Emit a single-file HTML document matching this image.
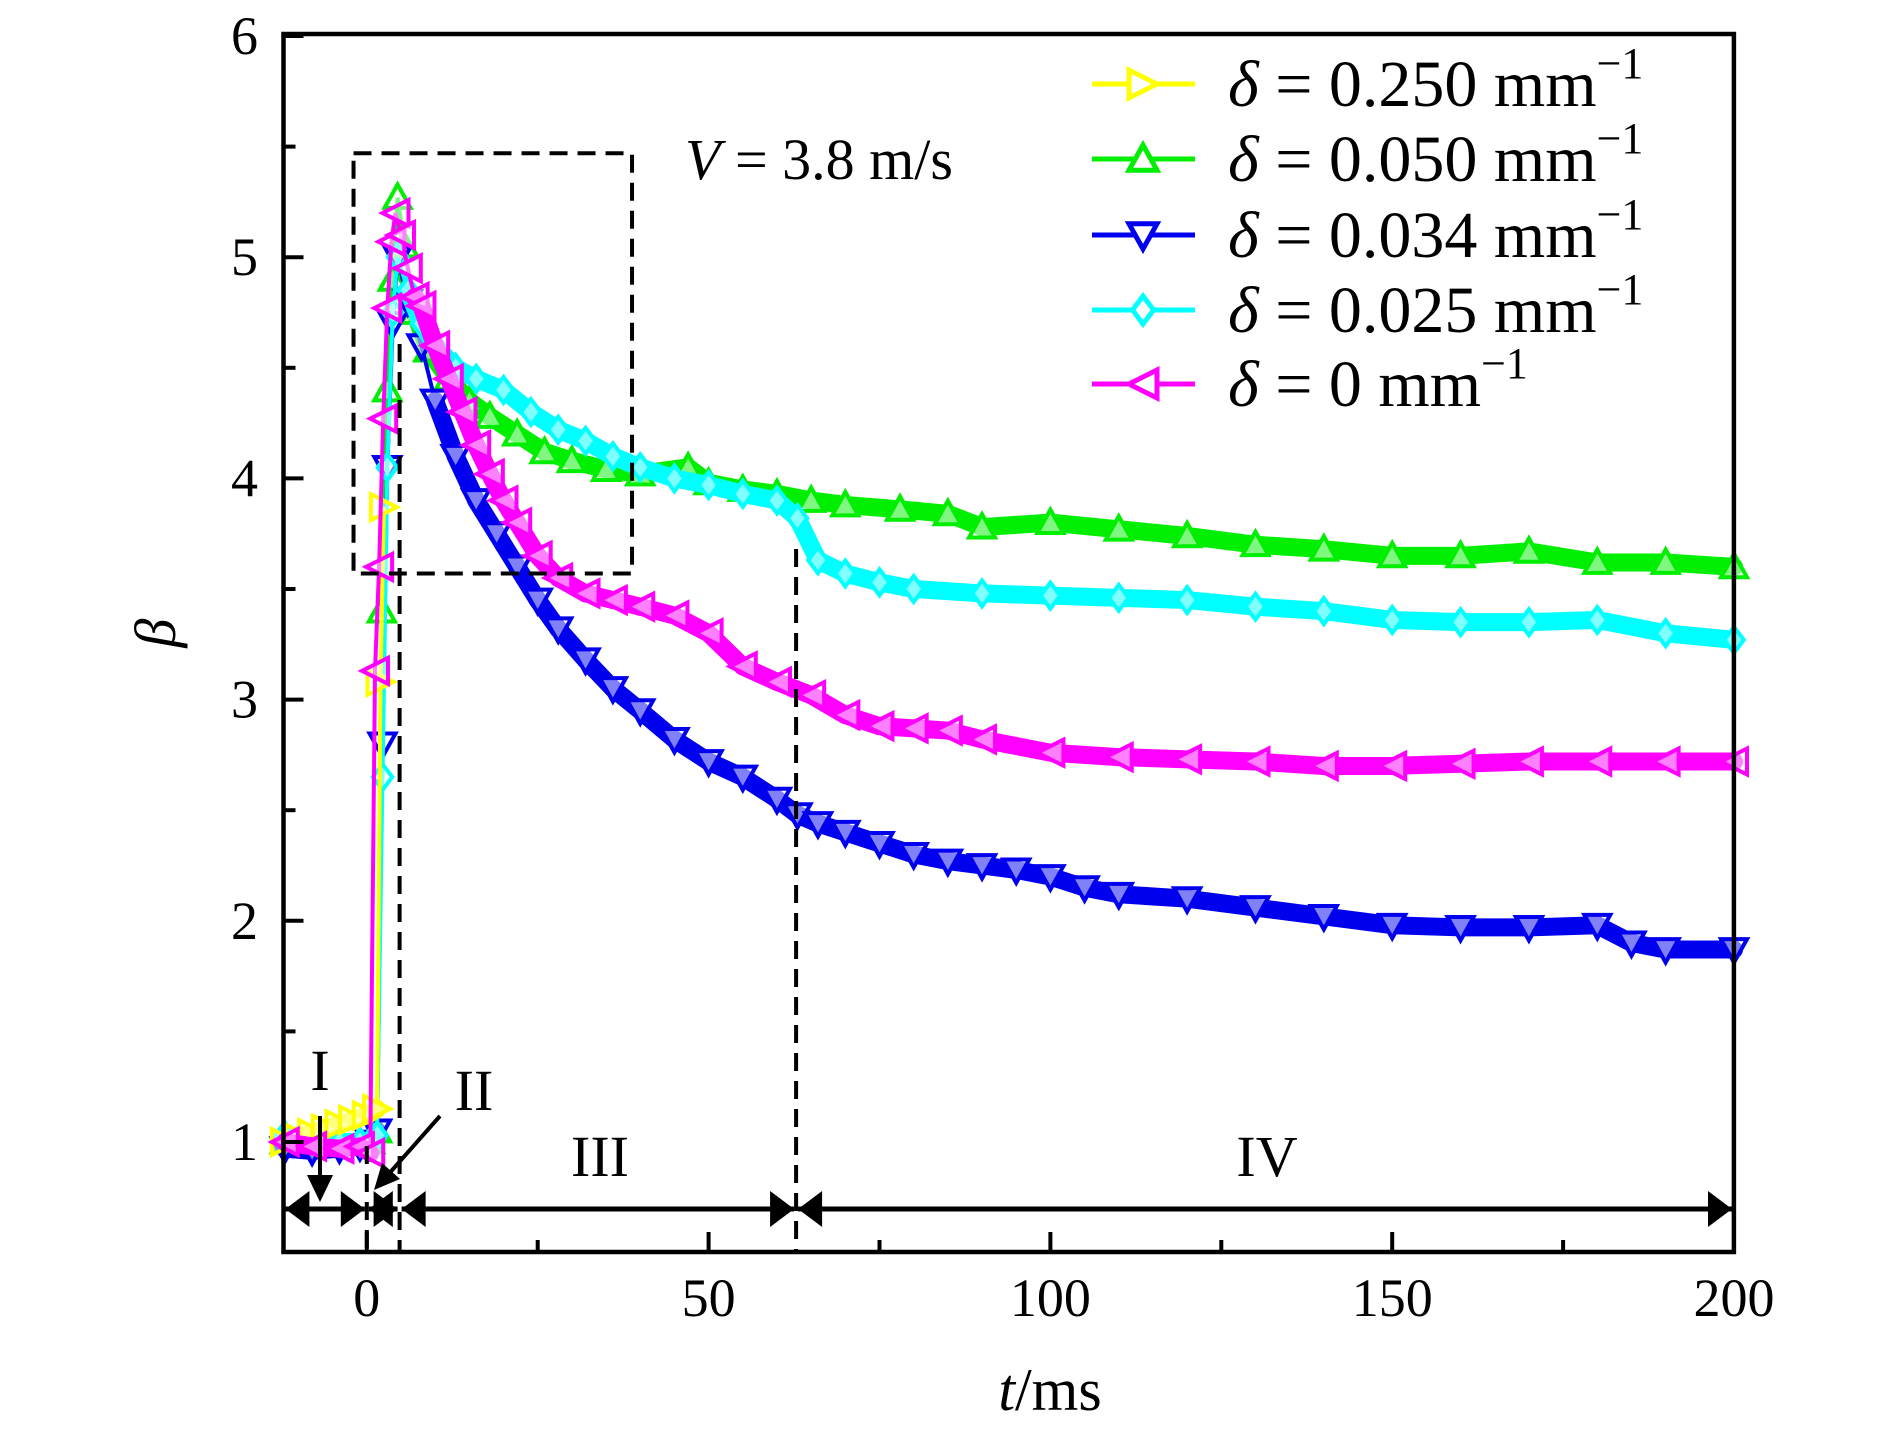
<!DOCTYPE html>
<html><head><meta charset="utf-8"><style>
html,body{margin:0;padding:0;background:#fff}
svg{display:block}
text{font-family:"Liberation Serif",serif;fill:#000}
</style></head><body>
<svg id="chart" width="1890" height="1441" viewBox="0 0 1890 1441" xmlns="http://www.w3.org/2000/svg">
<g id="series"></g>
<g id="axes"></g>
<g id="annot"></g>
<g id="legend"></g>
</svg>
<script>
const xTicks = [0, 50, 100, 150, 200];
const xMinor = [25, 75, 125, 175];
const yTicks = [1, 2, 3, 4, 5, 6];
const yMinor = [1.5, 2.5, 3.5, 4.5, 5.5];
const seriesNames = ["δ=0.250 mm⁻¹","δ=0.050 mm⁻¹","δ=0.034 mm⁻¹","δ=0.025 mm⁻¹","δ=0 mm⁻¹"];
const seriesColors = ["#ffff00","#00ee00","#0000ee","#00ffff","#ff00ff"];
const tYellow = [-12,-10,-8,-6,-4,-2,0,1.5,2.0,2.5];
const bYellow = [1.0,1.02,1.04,1.06,1.08,1.1,1.12,1.15,3.08,3.87];
const tGreen = [-12,-8,-4,-1,0.5,1.5,2.2,3,3.8,4.5,5.5,7,9,12,15,18,22,26,30,35,40,47,50,55,60,65,70,78,85,90,100,110,120,130,140,150,160,170,180,190,200];
const bGreen = [1,1,1,1,1,1.05,3.4,4.4,4.9,5.27,5.05,4.75,4.58,4.45,4.35,4.28,4.2,4.12,4.08,4.04,4.02,4.05,3.98,3.95,3.93,3.9,3.88,3.86,3.84,3.78,3.8,3.77,3.74,3.7,3.68,3.65,3.65,3.67,3.62,3.62,3.6];
const tBlue = [-12,-8,-4,-1,0.5,1.5,2.3,3,3.8,4.5,6,8,10,13,16,19,22,25,28,32,36,40,45,50,55,60,63,66,70,75,80,85,90,95,100,105,110,120,130,140,150,160,170,180,185,190,200];
const bBlue = [0.97,0.96,0.97,0.98,1.0,1.05,2.8,4.05,4.7,5.0,4.8,4.6,4.35,4.1,3.9,3.75,3.6,3.45,3.32,3.18,3.05,2.95,2.82,2.72,2.65,2.55,2.48,2.44,2.4,2.35,2.3,2.27,2.25,2.23,2.2,2.15,2.12,2.1,2.06,2.02,1.98,1.97,1.97,1.98,1.9,1.87,1.87];
const tCyan = [-12,-8,-4,-1,0.5,1.5,2.3,3,3.8,4.5,6,8,10,13,16,20,24,28,32,36,40,45,50,55,60,63,66,70,75,80,90,100,110,120,130,140,150,160,170,180,190,200];
const bCyan = [1.03,1.02,1.0,1.0,1.0,1.03,2.65,4.05,4.75,5.0,4.85,4.7,4.6,4.5,4.45,4.4,4.3,4.22,4.17,4.1,4.05,4.0,3.97,3.93,3.9,3.82,3.63,3.57,3.53,3.5,3.48,3.47,3.46,3.45,3.42,3.4,3.36,3.35,3.35,3.36,3.3,3.27];
const tMag = [-12,-8,-4,-1,0.5,1.2,1.8,2.4,3,3.6,4.2,5,6,7,8,10,12,14,16,18,20,22,25,28,32,36,40,45,50,55,60,65,70,75,80,85,90,100,110,120,130,140,150,160,170,180,190,200];
const bMag = [1.0,0.98,0.97,0.98,0.95,3.13,3.6,4.27,4.77,5.07,5.2,5.1,4.95,4.82,4.78,4.6,4.45,4.3,4.15,4.02,3.9,3.8,3.65,3.55,3.48,3.45,3.42,3.38,3.3,3.15,3.08,3.02,2.93,2.88,2.87,2.86,2.82,2.76,2.74,2.73,2.72,2.7,2.7,2.71,2.72,2.72,2.72,2.72];

const NS="http://www.w3.org/2000/svg";
const X0=366.8, XS=6.836, YB=1252.6, YS=221.2;
const L=283.5, R=1733.9, T=34, B=1252;
function xs(t){return X0+XS*t;}
function ys(b){return YB-(b-0.5)*YS;}
function mk(tag,attrs,parent){const e=document.createElementNS(NS,tag);for(const k in attrs)e.setAttribute(k,attrs[k]);parent.appendChild(e);return e;}
const gS=document.getElementById('series'),gA=document.getElementById('axes'),gN=document.getElementById('annot'),gL=document.getElementById('legend');

function markerPath(kind,x,y,s){
  const h=s/2;
  if(kind==='right')return `M${x-h},${y-h}L${x+h},${y}L${x-h},${y+h}Z`;
  if(kind==='up')return `M${x-h},${y+h*0.8}L${x},${y-h}L${x+h},${y+h*0.8}Z`;
  if(kind==='down')return `M${x-h},${y-h*0.8}L${x},${y+h}L${x+h},${y-h*0.8}Z`;
  if(kind==='diamond')return `M${x},${y-h}L${x+h*0.75},${y}L${x},${y+h}L${x-h*0.75},${y}Z`;
  return `M${x+h},${y-h}L${x-h},${y}L${x+h},${y+h}Z`;
}
const allSeries=[
 {t:tGreen,b:bGreen,c:1,k:'up',n:'series-delta-0050'},
 {t:tBlue,b:bBlue,c:2,k:'down',n:'series-delta-0034'},
 {t:tCyan,b:bCyan,c:3,k:'diamond',n:'series-delta-0025'},
 {t:tYellow,b:bYellow,c:0,k:'right',n:'series-delta-0250'},
 {t:tMag,b:bMag,c:4,k:'left',n:'series-delta-0'}
];
allSeries.forEach(s=>{
  const g=mk('g',{},gS);
  
  
  const col=seriesColors[s.c];
  for(let i=0;i<s.t.length-1;i++){
    const x1=xs(s.t[i]),y1=ys(s.b[i]),x2=xs(s.t[i+1]),y2=ys(s.b[i+1]);
    const steep=Math.abs(y2-y1)>3*Math.abs(x2-x1);
    const ln=mk('line',{x1:x1,y1:y1,x2:x2,y2:y2,stroke:col,'stroke-width':steep?4:18,'stroke-linecap':steep?'butt':'round'},g);
    
    
  }
  for(let i=0;i<s.t.length;i++){
    const p=mk('path',{d:markerPath(s.k,xs(s.t[i]),ys(s.b[i]),26),fill:'#fff','fill-opacity':0.5,stroke:col,'stroke-width':4},g);
    
    
  }
});

const fr=mk('rect',{x:L,y:T,width:R-L,height:B-T,fill:'none',stroke:'#000','stroke-width':4.5},gA);


xTicks.forEach(v=>{
  const x=xs(v);
  const tk=mk('line',{x1:x,y1:B,x2:x,y2:B-20,stroke:'#000','stroke-width':4},gA);
  
  
  const tx=mk('text',{x:x,y:1316,'font-size':54,'text-anchor':'middle'},gA);
  tx.textContent=v;
  
  
});
xMinor.forEach(v=>{
  const tk=mk('line',{x1:xs(v),y1:B,x2:xs(v),y2:B-12,stroke:'#000','stroke-width':4},gA);
  
  
});
yTicks.forEach(v=>{
  const y=ys(v);
  const tk=mk('line',{x1:L,y1:y,x2:L+20,y2:y,stroke:'#000','stroke-width':4},gA);
  
  
  const tx=mk('text',{x:258,y:y+18,'font-size':54,'text-anchor':'end'},gA);
  tx.textContent=v;
  
  
});
yMinor.forEach(v=>{
  const tk=mk('line',{x1:L,y1:ys(v),x2:L+12,y2:ys(v),stroke:'#000','stroke-width':4},gA);
  
  
});
const yt=mk('text',{x:0,y:0,'font-size':58,'font-style':'italic','text-anchor':'middle',transform:'translate(175,633) rotate(-90)'},gA);
yt.textContent='β';


const xt=mk('text',{x:1050,y:1410,'font-size':60,'text-anchor':'middle'},gA);
xt.innerHTML='<tspan font-style="italic">t</tspan>/ms';



const dash={stroke:'#000','stroke-width':4,'stroke-dasharray':'18,10',fill:'none'};
const box=mk('rect',Object.assign({x:xs(-1.94),y:ys(5.47),width:xs(38.8)-xs(-1.94),height:ys(3.57)-ys(5.47)},dash),gN);


[[0,1146],[4.8,344],[62.8,549]].forEach(d=>{
  const l=mk('line',Object.assign({x1:xs(d[0]),y1:d[1],x2:xs(d[0]),y2:B},dash),gN);
  
  
});
const ay=1209;
function head(x,y,dir){return `M${x},${y}L${x-dir*24},${y-18}L${x-dir*24},${y+18}Z`;}
[[-12.2,0],[0,4.8],[4.8,62.8],[62.8,200]].forEach(s=>{
  const x1=xs(s[0])+2,x2=xs(s[1])-2;
  const g=mk('g',{},gN);
  
  
  mk('line',{x1:x1,y1:ay,x2:x2,y2:ay,stroke:'#000','stroke-width':5},g);
  mk('path',{d:head(x1,ay,-1),fill:'#000'},g);
  mk('path',{d:head(x2,ay,1),fill:'#000'},g);
});
const da=mk('g',{},gN);


mk('line',{x1:320,y1:1116,x2:320,y2:1182,stroke:'#000','stroke-width':4},da);
mk('path',{d:'M320,1202L307,1175L333,1175Z',fill:'#000'},da);
const db=mk('g',{},gN);


mk('line',{x1:440,y1:1116,x2:386,y2:1177,stroke:'#000','stroke-width':4},db);
mk('path',{d:'M374,1190L382,1163L400,1179Z',fill:'#000'},db);
[['I',320,1090,'stage-i-label'],['II',474,1110,'stage-ii-label'],['III',600,1176,'stage-iii-label'],['IV',1267,1176,'stage-iv-label']].forEach(a=>{
  const t=mk('text',{x:a[1],y:a[2],'font-size':58,'text-anchor':'middle'},gN);
  t.textContent=a[0];
  
  
});
const vt=mk('text',{x:685,y:179,'font-size':58},gN);
vt.innerHTML='<tspan font-style="italic">V</tspan> = 3.8 m/s';



const rowsY=[84,159,235,310,384];
const kinds=['right','up','down','diamond','left'];
const labels=['0.250','0.050','0.034','0.025','0'];
for(let i=0;i<5;i++){
  const g=mk('g',{},gL);
  
  
  const col=seriesColors[i],y=rowsY[i];
  mk('line',{x1:1092,y1:y,x2:1195,y2:y,stroke:col,'stroke-width':5},g);
  mk('path',{d:markerPath(kinds[i],1143,y,28),fill:'#fff',stroke:col,'stroke-width':5},g);
  const t=mk('text',{x:1228,y:y+22,'font-size':66},g);
  t.innerHTML='<tspan font-style="italic">δ</tspan> = '+labels[i]+' mm<tspan dy="-28" font-size="44">−1</tspan>';
}
</script>
</body></html>
